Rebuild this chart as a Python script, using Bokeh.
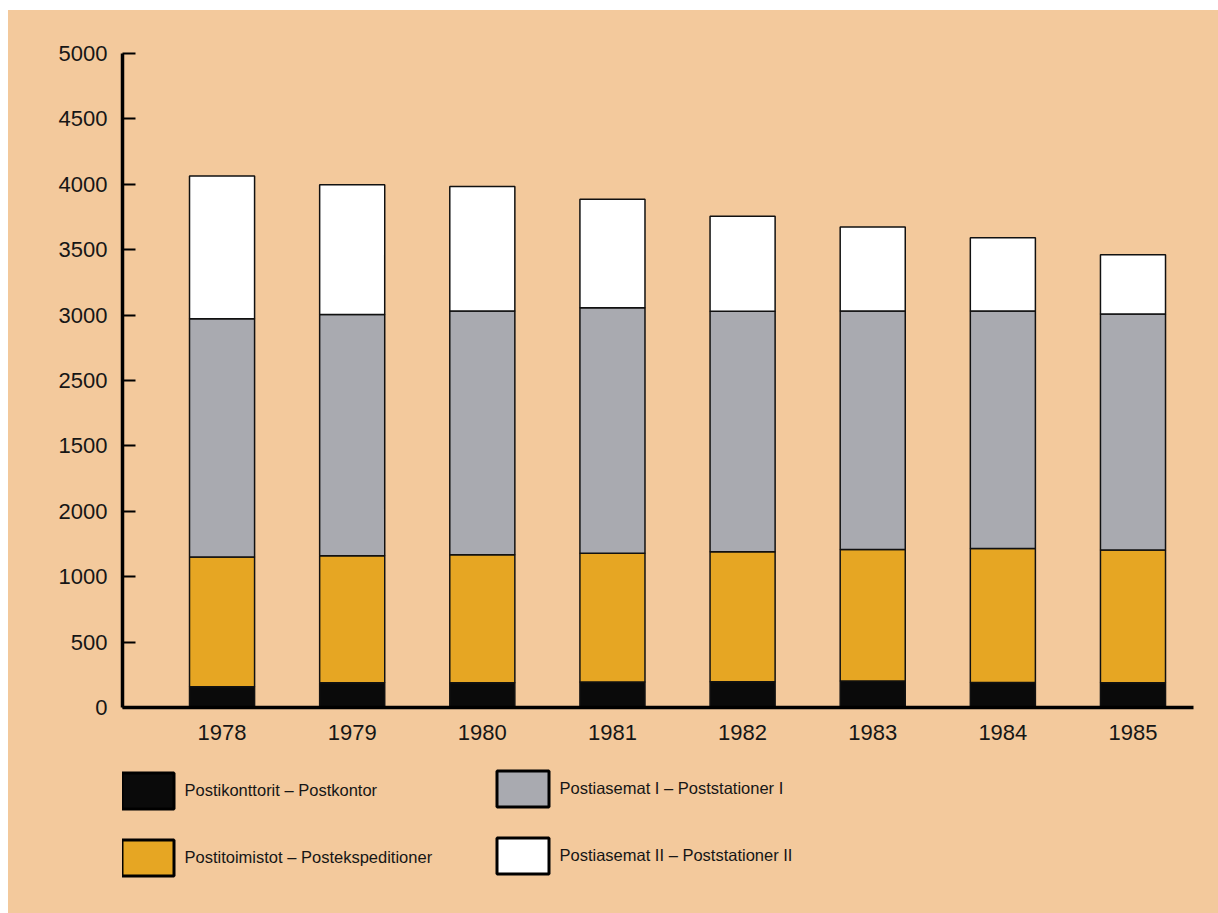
from bokeh.plotting import figure
from bokeh.models import Range1d, FixedTicker, Legend, LegendItem, ColumnDataSource, Spacer
from bokeh.layouts import column, row
from bokeh.embed import file_html
from bokeh.resources import INLINE

years = [1978, 1979, 1980, 1981, 1982, 1983, 1984, 1985]
postikonttorit = [159, 190, 189, 195, 197, 202, 192, 189]
postitoimistot = [991, 970, 978, 985, 993, 1006, 1024, 1016]
postiasemat_1 = [1823, 1844, 1864, 1877, 1839, 1823, 1815, 1803]
postiasemat_2 = [1090, 993, 952, 828, 726, 642, 561, 454]

y_ticks = [0, 500, 1000, 1500, 2000, 2500, 3000, 3500, 4000, 4500, 5000]
y_tick_labels = ["0", "500", "1000", "2000", "1500", "2500", "3000", "3500", "4000", "4500", "5000"]

series_names = ["Postikonttorit – Postkontor", "Postitoimistot – Postekspeditioner",
                "Postiasemat I – Poststationer I", "Postiasemat II – Poststationer II"]
series_colors = ["#0a0a0a", "#e6a623", "#a9aab0", "#ffffff"]

BG = "#f3c99c"
FONT = "Liberation Sans"

source = ColumnDataSource(dict(year=years, s1=postikonttorit, s2=postitoimistot,
                               s3=postiasemat_1, s4=postiasemat_2))

p = figure(width=1210, height=752, output_backend="svg", toolbar_location=None,
           x_range=Range1d(1977.235, 1985.465), y_range=Range1d(0, 5000),
           min_border_left=114, min_border_right=25, min_border_top=43, min_border_bottom=55,
           styles={"background-color": BG})
p.background_fill_alpha = 0
p.border_fill_alpha = 0
p.outline_line_color = None
p.grid.visible = False

p.vbar_stack(["s1", "s2", "s3", "s4"], x="year", width=0.5, source=source,
             fill_color=series_colors, line_color="#111111", line_width=1.5)

# axes
p.yaxis.ticker = FixedTicker(ticks=y_ticks)
p.yaxis.major_label_overrides = {t: l for t, l in zip(y_ticks, y_tick_labels)}
p.yaxis.axis_line_width = 3.5
p.yaxis.axis_line_color = "black"
p.yaxis.major_tick_in = 13
p.yaxis.major_tick_out = 0
p.yaxis.major_tick_line_width = 2
p.yaxis.minor_tick_line_color = None
p.yaxis.major_label_standoff = 15
p.yaxis.major_label_text_font = FONT
p.yaxis.major_label_text_font_size = "22px"
p.yaxis.major_label_text_color = "#161616"

p.xaxis.ticker = FixedTicker(ticks=years)
p.xaxis.axis_line_width = 3.5
p.xaxis.axis_line_color = "black"
p.xaxis.major_tick_line_color = None
p.xaxis.minor_tick_line_color = None
p.xaxis.major_tick_out = 0
p.xaxis.major_tick_in = 0
p.xaxis.major_label_standoff = 17
p.xaxis.major_label_text_font = FONT
p.xaxis.major_label_text_font_size = "22px"
p.xaxis.major_label_text_color = "#161616"

# legend panel (its frame is aligned with the main plot's frame by the column layout)
p2 = figure(width=1210, height=151, output_backend="svg", toolbar_location=None,
            x_range=Range1d(0, 1), y_range=Range1d(0, 1),
            min_border_left=0, min_border_right=0, min_border_top=0, min_border_bottom=0,
            styles={"background-color": BG})
p2.axis.visible = False
p2.grid.visible = False
p2.outline_line_color = None
p2.background_fill_alpha = 0
p2.border_fill_alpha = 0

nan = float("nan")
dummies = []
for c in series_colors:
    r = p2.vbar(x=[nan], top=[nan], width=0.5, fill_color=c, line_color="black", line_width=3)
    dummies.append(r)

def make_legend(idx, loc):
    lg = Legend(items=[LegendItem(label=series_names[i], renderers=[dummies[i]]) for i in idx],
                location=loc, orientation="vertical",
                glyph_width=65, glyph_height=45, label_standoff=5, spacing=22,
                padding=0, margin=0, border_line_alpha=0, background_fill_alpha=0,
                label_text_font=FONT, label_text_font_size="16.5px",
                label_text_color="#161616")
    p2.add_layout(lg)
    return lg

make_legend([0, 1], (-7.5, 33.5))
make_legend([2, 3], (367.5, 35.5))

layout = column(Spacer(height=10),
                row(Spacer(width=8), column(p, p2, spacing=0), spacing=0),
                spacing=0)

open("out.html", "w").write(file_html(layout, INLINE))
